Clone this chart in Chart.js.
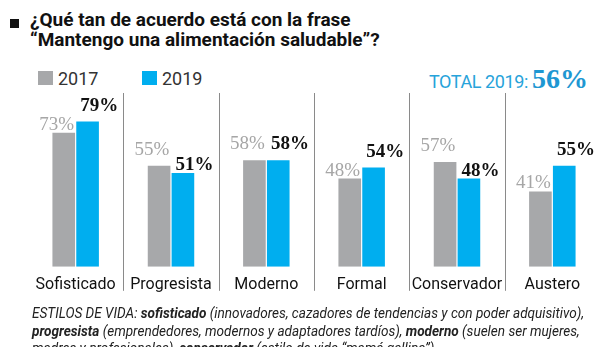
<!DOCTYPE html>
<html>
<head>
<meta charset="utf-8">
<script src="https://cdn.jsdelivr.net/npm/chart.js@4.4.1/dist/chart.umd.min.js"></script>
<style>
  html, body { margin: 0; padding: 0; background: #fff; overflow: hidden; }
  body { width: 595px; height: 347px; position: relative; font-family: Roboto, sans-serif; }
  .title { position: absolute; left: 30px; top: 10px; font-weight: bold; font-size: 19px; line-height: 20px; color: #111; white-space: nowrap; }
  .title .sq { position: absolute; left: -20px; top: 9px; width: 9px; height: 9px; background: #111; }
  .legend { position: absolute; top: 71px; left: 38px; font-size: 18px; color: #333; }
  .legend span.item { position: absolute; white-space: nowrap; line-height: 15px; }
  .legend i { display: inline-block; width: 15px; height: 14px; vertical-align: top; margin-right: 5px; }
  .total { position: absolute; right: 7px; top: 63px; color: #27a3da; font-size: 18px; white-space: nowrap; letter-spacing: -0.4px; }
  .total b { font-family: "Liberation Serif", serif; font-size: 28px; color: #1e97d2; letter-spacing: 0; }
  #myChart { position: absolute; left: 0; top: 0; }
  .foot { position: absolute; left: 32px; top: 305px; font-size: 15px; line-height: 17.5px; font-style: italic; color: #222; white-space: nowrap; transform: scaleX(0.905); transform-origin: 0 0; }
</style>
</head>
<body>
<div class="title"><span class="sq"></span>¿Qué tan de acuerdo está con la frase<br>“Mantengo una alimentación saludable”?</div>
<div class="legend" id="legend"></div>
<div class="total">TOTAL 2019: <b id="total"></b></div>
<canvas id="myChart" width="610" height="308"></canvas>
<div class="foot">ESTILOS DE VIDA: <b>sofisticado</b> (innovadores, cazadores de tendencias y con poder adquisitivo),<br><b>progresista</b> (emprendedores, modernos y adaptadores tardíos), <b>moderno</b> (suelen ser mujeres,<br>madres y profesionales), <b>conservador</b> (estilo de vida “mamá gallina”).</div>
<script>
const categorias = ["Sofisticado", "Progresista", "Moderno", "Formal", "Conservador", "Austero"];
const series = ["2017", "2019"];
const valores2017 = [73, 55, 58, 48, 57, 41];
const valores2019 = [79, 51, 58, 54, 48, 55];
const total2019 = 56;

const colores = ["#a7a8aa", "#00aeef"];

document.getElementById("total").textContent = total2019 + "%";
let legendHtml = "";
series.forEach((s, i) => {
  legendHtml += '<span class="item" style="left:' + (i * 104) + 'px"><i style="background:' + colores[i] + '"></i>' + s + '</span>';
});
document.getElementById("legend").innerHTML = legendHtml;

// thin grey dividers between the categories
const divisores = {
  id: "divisores",
  afterDraw(chart) {
    const x = chart.scales.x;
    const area = chart.chartArea;
    const c = chart.ctx;
    c.save();
    c.strokeStyle = "#8a8a8a";
    c.lineWidth = 1;
    for (let i = 0; i < categorias.length - 1; i++) {
      const px = Math.round((x.getPixelForValue(i) + x.getPixelForValue(i + 1)) / 2) + 0.5;
      c.beginPath();
      c.moveTo(px, area.top + 10);
      c.lineTo(px, area.bottom + 24);
      c.stroke();
    }
    c.restore();
  }
};

// percentage labels: grey ones to the left of the pair, blue ones to the right
const etiquetas = {
  id: "etiquetas",
  afterDatasetsDraw(chart) {
    const c = chart.ctx;
    const m0 = chart.getDatasetMeta(0).data;
    const m1 = chart.getDatasetMeta(1).data;
    c.save();
    c.textBaseline = "alphabetic";
    categorias.forEach((cat, i) => {
      const a = valores2017[i], b = valores2019[i];
      const g = m0[i], bl = m1[i];
      c.font = "19px 'Liberation Serif', serif";
      c.fillStyle = "#a6a6a6";
      c.textAlign = "right";
      c.fillText(a + "%", g.x + g.width / 2 - 1, g.y - (a >= b ? 11 : 3));
      c.font = "bold 19px 'Liberation Serif', serif";
      c.fillStyle = "#111";
      c.textAlign = "left";
      c.fillText(b + "%", bl.x - bl.width / 2 + 4, bl.y - (b >= a ? 11 : 3));
    });
    c.restore();
  }
};

const ctx = document.getElementById("myChart");
new Chart(ctx, {
  type: "bar",
  data: {
    labels: categorias,
    datasets: [
      { label: series[0], data: valores2017, backgroundColor: colores[0] },
      { label: series[1], data: valores2019, backgroundColor: colores[1] },
    ],
  },
  options: {
    responsive: false,
    animation: false,
    layout: { padding: { top: 83, left: 28, right: 10, bottom: 4 } },
    categoryPercentage: 0.5,
    barPercentage: 0.95,
    plugins: {
      legend: { display: false },
      tooltip: { enabled: false },
    },
    scales: {
      x: {
        grid: { display: false, drawTicks: false, tickLength: 0 },
        border: { display: false },
        ticks: {
          color: "#111",
          padding: 9,
          maxRotation: 0,
          minRotation: 0,
          autoSkip: false,
          font: { family: "Roboto, sans-serif", size: 16 },
        },
      },
      y: {
        display: false,
        min: 0,
        max: 100,
      },
    },
  },
  plugins: [divisores, etiquetas],
});
</script>
</body>
</html>
